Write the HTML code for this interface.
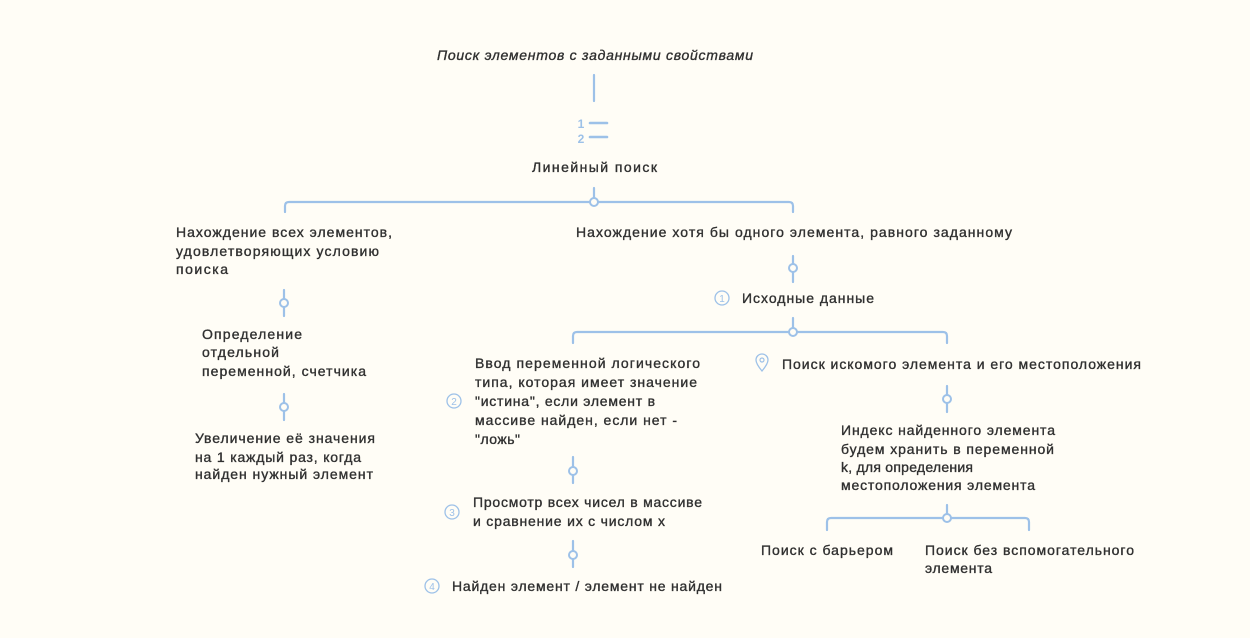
<!DOCTYPE html>
<html><head><meta charset="utf-8"><style>
html,body{margin:0;padding:0;background:#fffdf6;}
svg{display:block}
text{font-family:"Liberation Sans","DejaVu Sans",sans-serif;font-size:14px;fill:#303030;stroke:#303030;stroke-width:0.35;}
.ln{stroke:#9dc1e8;stroke-width:2.2;fill:none;stroke-linecap:round}
.c{stroke:#9dc1e8;stroke-width:2;fill:#fffdf6}
.n{font-size:10px;fill:#9dc1e8;stroke:none;text-anchor:middle}
</style></head><body>
<svg width="1250" height="638" viewBox="0 0 1250 638">
<rect width="1250" height="638" fill="#fffdf6"/>
<text x="437" y="60" textLength="316" font-style="italic">Поиск элементов с заданными свойствами</text>
<line class="ln" x1="594" y1="75" x2="594" y2="101"/>
<text x="581" y="128" style="font-size:12px;font-weight:bold;fill:#9dc1e8;stroke:none" text-anchor="middle">1</text>
<text x="581" y="143" style="font-size:12px;font-weight:bold;fill:#9dc1e8;stroke:none" text-anchor="middle">2</text>
<line class="ln" x1="590" y1="123" x2="607" y2="123" style="stroke-width:2.6"/>
<line class="ln" x1="590" y1="137" x2="607" y2="137" style="stroke-width:2.6"/>
<text x="532" y="172" textLength="125">Линейный поиск</text>
<line class="ln" x1="594" y1="188" x2="594" y2="198"/>
<path class="ln" d="M285 212 V206 Q285 202 289 202 H789 Q793 202 793 206 V212"/>
<circle class="c" cx="594" cy="202" r="4"/>
<text x="176" y="237" textLength="216">Нахождение всех элементов,</text>
<text x="176" y="256" textLength="203">удовлетворяющих условию</text>
<text x="176" y="274" textLength="52">поиска</text>
<text x="576" y="237" textLength="436">Нахождение хотя бы одного элемента, равного заданному</text>
<line class="ln" x1="284" y1="290" x2="284" y2="316"/><circle class="c" cx="284" cy="303" r="4"/>
<text x="202" y="339" textLength="100">Определение</text>
<text x="202" y="357" textLength="77">отдельной</text>
<text x="202" y="376" textLength="164">переменной, счетчика</text>
<line class="ln" x1="284" y1="394" x2="284" y2="420"/><circle class="c" cx="284" cy="407" r="4"/>
<text x="195" y="443" textLength="180">Увеличение её значения</text>
<text x="195" y="462" textLength="166">на 1 каждый раз, когда</text>
<text x="195" y="479" textLength="178">найден нужный элемент</text>
<line class="ln" x1="793" y1="256" x2="793" y2="282"/><circle class="c" cx="793" cy="268" r="4"/>
<circle cx="722" cy="298" r="7" fill="none" stroke="#9dc1e8" stroke-width="1.3"/><text class="n" x="722" y="302">1</text>
<text x="742" y="303" textLength="132">Исходные данные</text>
<line class="ln" x1="793" y1="318" x2="793" y2="328"/>
<path class="ln" d="M573 343 V336 Q573 332 577 332 H943 Q947 332 947 336 V343"/>
<circle class="c" cx="793" cy="332" r="4"/>
<text x="475" y="368" textLength="225">Ввод переменной логического</text>
<text x="475" y="387" textLength="222">типа, которая имеет значение</text>
<text x="475" y="406" textLength="180">"истина", если элемент в</text>
<text x="475" y="425" textLength="202">массиве найден, если нет -</text>
<text x="475" y="444" textLength="45">"ложь"</text>
<circle cx="454" cy="401" r="7" fill="none" stroke="#9dc1e8" stroke-width="1.3"/><text class="n" x="454" y="405">2</text>
<path d="M762 371 C757 365 756 362 756 360 A6 6 0 0 1 768 360 C768 362 767 365 762 371 Z" fill="none" stroke="#9dc1e8" stroke-width="1.3"/>
<circle cx="762" cy="360" r="2" fill="none" stroke="#9dc1e8" stroke-width="1.2"/>
<text x="782" y="369" textLength="359">Поиск искомого элемента и его местоположения</text>
<line class="ln" x1="947" y1="386" x2="947" y2="412"/><circle class="c" cx="947" cy="399" r="4"/>
<text x="841" y="435" textLength="214">Индекс найденного элемента</text>
<text x="841" y="454" textLength="213">будем хранить в переменной</text>
<text x="841" y="472" textLength="132">k, для определения</text>
<text x="841" y="490" textLength="194">местоположения элемента</text>
<line class="ln" x1="947" y1="505" x2="947" y2="514"/>
<path class="ln" d="M827 530 V522 Q827 518 831 518 H1025 Q1029 518 1029 522 V530"/>
<circle class="c" cx="947" cy="518" r="4"/>
<text x="761" y="555" textLength="132">Поиск с барьером</text>
<text x="925" y="555" textLength="209">Поиск без вспомогательного</text>
<text x="925" y="573" textLength="67">элемента</text>
<line class="ln" x1="573" y1="457" x2="573" y2="483"/><circle class="c" cx="573" cy="471" r="4"/>
<circle cx="452" cy="512" r="7" fill="none" stroke="#9dc1e8" stroke-width="1.3"/><text class="n" x="452" y="516">3</text>
<text x="473" y="507" textLength="229">Просмотр всех чисел в массиве</text>
<text x="473" y="526" textLength="192">и сравнение их с числом x</text>
<line class="ln" x1="573" y1="541" x2="573" y2="567"/><circle class="c" cx="573" cy="555" r="4"/>
<circle cx="432" cy="586" r="7" fill="none" stroke="#9dc1e8" stroke-width="1.3"/><text class="n" x="432" y="590">4</text>
<text x="452" y="591" textLength="270">Найден элемент / элемент не найден</text>
</svg>
</body></html>
